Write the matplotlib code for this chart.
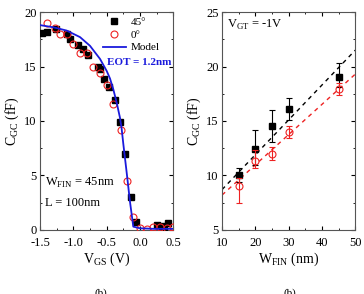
import numpy as np
import matplotlib.pyplot as plt
from matplotlib.ticker import MultipleLocator

plt.rcParams['font.family'] = ['Liberation Serif', 'DejaVu Serif']
plt.rcParams['mathtext.fontset'] = 'custom'
plt.rcParams['mathtext.rm'] = 'Liberation Serif'

# left panel: C-V data
vgs_45 = [-1.475, -1.40, -1.26, -1.10, -1.05, -0.925, -0.85, -0.775, -0.635, -0.60,
          -0.535, -0.46, -0.375, -0.30, -0.225, -0.135, -0.06, 0.25, 0.33, 0.36, 0.425]
cgc_45 = [18.1, 18.2, 18.4, 17.95, 17.5, 16.95, 16.65, 16.05, 15.0, 14.8,
          13.85, 13.1, 11.95, 9.95, 7.0, 3.0, 0.75, 0.45, 0.35, 0.3, 0.6]
vgs_0 = [-1.40, -1.275, -1.2, -1.1, -1.0, -0.9, -0.8, -0.7, -0.6, -0.5, -0.4, -0.29,
         -0.2, -0.1, 0.0, 0.1, 0.2, 0.3, 0.4, 0.5]
cgc_0 = [18.95, 18.5, 18.0, 18.0, 17.1, 16.2, 16.25, 15.0, 14.4, 13.3, 11.6, 9.2,
         4.45, 1.15, 0.15, 0.1, 0.25, 0.3, 0.2, 0.3]
vgs_model = [-1.5, -1.3, -1.1, -0.9, -0.75, -0.6, -0.5, -0.45, -0.4, -0.35, -0.3, -0.275,
             -0.25, -0.2, -0.15, -0.1, 0.0, 0.2, 0.5]
cgc_model = [18.8, 18.6, 18.3, 17.7, 16.9, 15.7, 14.6, 13.9, 12.9, 11.7, 10.3, 9.3,
             7.9, 5.3, 2.6, 0.3, 0.15, 0.1, 0.1]

# right panel: C vs fin width
wfin = [15, 20, 25, 30, 45]
c45 = [10.0, 12.4, 14.5, 16.1, 19.0]
c45_lo = [0.6, 1.4, 1.4, 1.0, 0.9]
c45_hi = [0.7, 1.8, 1.5, 1.0, 1.3]
c0 = [9.05, 11.3, 12.0, 13.95, 17.9]
c0_lo = [1.6, 0.65, 0.6, 0.55, 0.5]
c0_hi = [0.7, 1.0, 0.6, 0.55, 0.55]
fit_x = [10, 50]
fit45 = [8.7, 21.5]
fit0 = [8.2, 19.3]

fig = plt.figure(figsize=(3.64, 2.94), dpi=100)
ax1 = fig.add_axes([0.110, 0.218, 0.366, 0.741])
ax2 = fig.add_axes([0.610, 0.218, 0.366, 0.741])

fs = 9
for ax in (ax1, ax2):
    ax.tick_params(which='both', direction='in', top=True, right=True, labelsize=fs, pad=2.5)
    ax.tick_params(axis='x', which='both', pad=5)
    ax.tick_params(which='major', length=3)
    ax.tick_params(which='minor', length=1.5)
    for s in ax.spines.values():
        s.set_color('#555555')
        s.set_linewidth(0.8)

ax1.plot(vgs_45, cgc_45, 's', color='black', ms=4.5, label='45°', zorder=3)
ax1.plot(vgs_0, cgc_0, 'o', mfc='none', mec='#ee2222', ms=5, mew=0.8, label='0°', zorder=4)
ax1.plot(vgs_model, cgc_model, '-', color='#1a1adc', lw=1.3, label='Model', zorder=5)
ax1.set_xlim(-1.5, 0.5)
ax1.set_ylim(0, 20)
ax1.xaxis.set_major_locator(MultipleLocator(0.5))
ax1.xaxis.set_minor_locator(MultipleLocator(0.25))
ax1.yaxis.set_major_locator(MultipleLocator(5))
ax1.yaxis.set_minor_locator(MultipleLocator(2.5))
ax1.set_xticklabels(['%.1f' % v for v in ax1.get_xticks()])
ax1.set_xlabel(r'V$_{\rm GS}$ (V)', fontsize=10, labelpad=1)
ax1.set_ylabel(r'C$_{\rm GC}$ (fF)', fontsize=10, labelpad=2)
ax1.legend(loc='upper right', bbox_to_anchor=(0.93, 0.995), frameon=False, fontsize=8,
           handlelength=2.1, handletextpad=0.4, borderaxespad=0.2, labelspacing=0.25,
           borderpad=0.2)
ax1.text(0.985, 0.77, 'EOT = 1.2nm', transform=ax1.transAxes, ha='right', va='center',
         color='#1a1adc', fontsize=8, fontweight='bold')
ax1.text(0.04, 0.215, r'W$_{\rm FIN}$ = 45nm', transform=ax1.transAxes, fontsize=fs, va='center')
ax1.text(0.04, 0.125, 'L = 100nm', transform=ax1.transAxes, fontsize=fs, va='center')

ax2.errorbar(wfin, c45, yerr=[c45_lo, c45_hi], fmt='s', color='black', ms=4.5,
             elinewidth=0.8, capsize=2, capthick=0.8, zorder=3)
ax2.errorbar(wfin, c0, yerr=[c0_lo, c0_hi], fmt='o', mfc='none', mec='#ee2222',
             ecolor='#ee2222', ms=5, mew=0.8, elinewidth=0.8, capsize=2, capthick=0.8, zorder=4)
ax2.plot(fit_x, fit45, '--', color='black', lw=1, dashes=(3, 3))
ax2.plot(fit_x, fit0, '--', color='#ee2222', lw=1, dashes=(3, 3))
ax2.set_xlim(10, 50)
ax2.set_ylim(5, 25)
ax2.xaxis.set_major_locator(MultipleLocator(10))
ax2.xaxis.set_minor_locator(MultipleLocator(5))
ax2.yaxis.set_major_locator(MultipleLocator(5))
ax2.yaxis.set_minor_locator(MultipleLocator(2.5))
ax2.set_xlabel(r'W$_{\rm FIN}$ (nm)', fontsize=10, labelpad=1)
ax2.set_ylabel(r'C$_{\rm GC}$ (fF)', fontsize=10, labelpad=2)
ax2.text(0.04, 0.94, r'V$_{\rm GT}$ = -1V', transform=ax2.transAxes, fontsize=fs, va='center')

fig.text(101 / 364, 0.02, '(b)', fontsize=8, ha='center', va='top')
fig.text(290 / 364, 0.02, '(b)', fontsize=8, ha='center', va='top')

fig.savefig('out.png', dpi=100)
